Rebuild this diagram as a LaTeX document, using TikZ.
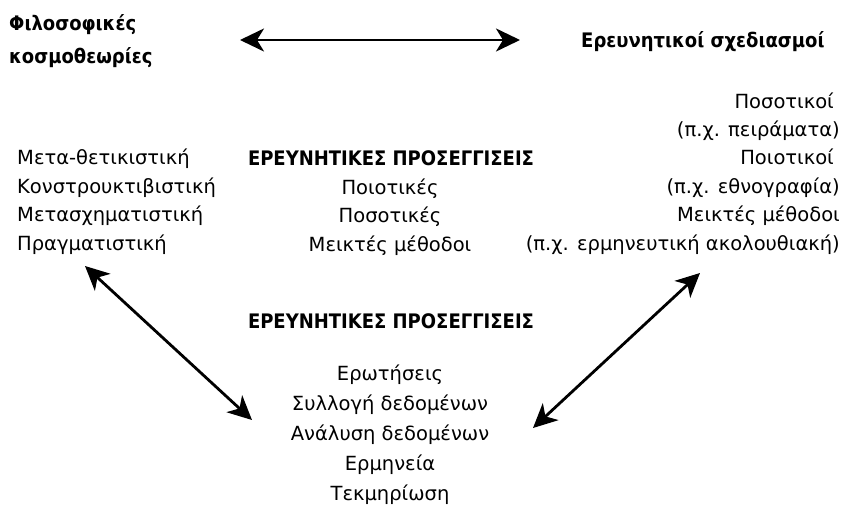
\documentclass[tikz,border=0pt]{standalone}
\usepackage{fontspec}
\setmainfont{DejaVu Sans}
\newfontfamily\headfont{DejaVu Sans Condensed}
\usetikzlibrary{arrows.meta}

\tikzset{
  plain/.style={inner sep=0pt, font=\fontsize{19.5}{28.5}\selectfont},
  head/.style={inner sep=0pt, font=\headfont\bfseries\fontsize{20}{33}\selectfont},
  twoway/.style={line width=2.8pt, {Stealth[length=24pt,width=23pt,inset=7pt]}-{Stealth[length=24pt,width=23pt,inset=7pt]}},
}

\begin{document}
\begin{tikzpicture}[x=1pt,y=-1pt]
\useasboundingbox (0,0) rectangle (856,506);
% top row
\node[head, anchor=base west, align=left] (philo) at (9,63) {Φιλοσοφικές\\κοσμοθεωρίες};
\node[head, anchor=base west] (design) at (581,47) {Ερευνητικοί σχεδιασμοί};
% the three lists (base = last line)
\node[plain, anchor=base west, align=left] (stances) at (17,250) {Μετα-θετικιστική\\Κονστρουκτιβιστική\\Μετασχηματιστική\\Πραγματιστική};
\node[head, anchor=base] (approach) at (391,165) {ΕΡΕΥΝΗΤΙΚΕΣ ΠΡΟΣΕΓΓΙΣΕΙΣ};
\node[plain, anchor=base, align=center] (kinds) at (390,251) {Ποιοτικές\\Ποσοτικές\\Μεικτές μέθοδοι};
\node[plain, anchor=base east, align=right, font=\fontsize{19.5}{28.4}\selectfont] (plans) at (840,250) {Ποσοτικοί\kern6pt\\(π.χ. πειράματα)\\Ποιοτικοί\kern6pt\\(π.χ. εθνογραφία)\\Μεικτές μέθοδοι\\(π.χ. ερμηνευτική ακολουθιακή)};
% bottom
\node[head, anchor=base] (methods) at (391,328) {ΕΡΕΥΝΗΤΙΚΕΣ ΠΡΟΣΕΓΓΙΣΕΙΣ};
\node[plain, anchor=base, align=center, font=\fontsize{19.5}{29.8}\selectfont] (steps) at (390,500) {Ερωτήσεις\\Συλλογή δεδομένων\\Ανάλυση δεδομένων\\Ερμηνεία\\Τεκμηρίωση};
% arrows
\coordinate (topL) at (240,40);
\coordinate (topR) at (520,40);
\coordinate (leftU) at (85,266);
\coordinate (leftD) at (252,420);
\coordinate (rightU) at (700,273);
\coordinate (rightD) at (533,428);
\draw[twoway] (topL) -- (topR);
\draw[twoway] (leftU) -- (leftD);
\draw[twoway] (rightU) -- (rightD);
\end{tikzpicture}
\end{document}
